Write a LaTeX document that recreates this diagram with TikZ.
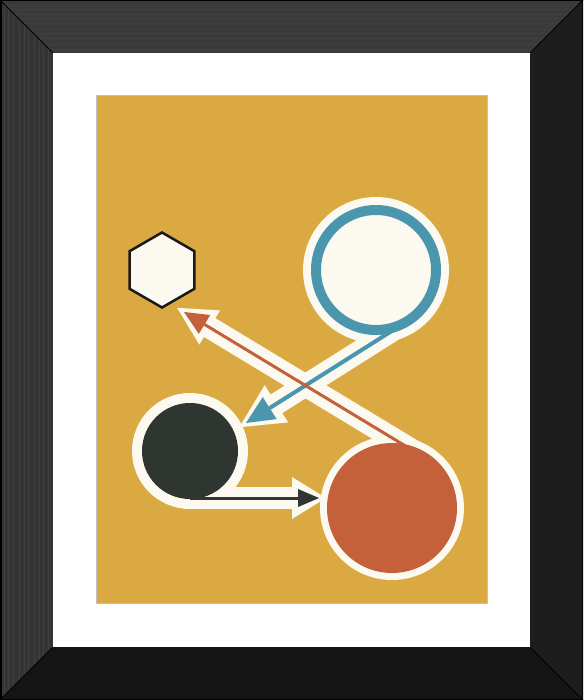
\documentclass[tikz,border=0pt]{standalone}
\usepackage{tikz}
\usetikzlibrary{shapes,positioning,calc}
\usetikzlibrary{arrows.meta,backgrounds}

\definecolor{mustard}{HTML}{DBA941}
\definecolor{cream}{HTML}{FBF9F0}
\definecolor{rust}{HTML}{C4613A}
\definecolor{ringblue}{HTML}{4A96AC}
\definecolor{slate}{HTML}{2F3631}
\definecolor{frametop}{HTML}{3A3A3A}
\definecolor{frameleft}{HTML}{343434}
\definecolor{frameright}{HTML}{1D1D1D}
\definecolor{framebottom}{HTML}{151515}

\begin{document}
\begin{tikzpicture}[x=1pt,y=-1pt,
    disk/.style={circle, inner sep=0pt, outer sep=0pt},
    halo/.style={cream, line width=22pt, line cap=round},
    ]
    \useasboundingbox (0,0) rectangle (583,700);

    % Frame, mat and paper
    \begin{scope}[on background layer]
        \fill[frametop] (0,0) -- (583,0) -- (530,53) -- (53,53) -- cycle;
        \fill[frameleft] (0,0) -- (53,53) -- (53,647) -- (0,700) -- cycle;
        \fill[frameright] (583,0) -- (583,700) -- (530,647) -- (530,53) -- cycle;
        \fill[framebottom] (0,700) -- (53,647) -- (530,647) -- (583,700) -- cycle;
        \begin{scope}
            \clip (0,0) -- (583,0) -- (530,53) -- (53,53) -- cycle;
            \foreach \g in {5,9,14,18,23,29,33,38,44,49}
                \draw[black!75, line width=0.5pt] (0,\g) -- (583,\g);
        \end{scope}
        \begin{scope}
            \clip (0,0) -- (53,53) -- (53,647) -- (0,700) -- cycle;
            \foreach \g in {4,8,13,19,24,28,34,39,43,48}
                \draw[black!75, line width=0.5pt] (\g,0) -- (\g,700);
        \end{scope}
        \draw[black, line width=1pt] (0,0) -- (53,53) (583,0) -- (530,53)
            (0,700) -- (53,647) (583,700) -- (530,647);
        \draw[black, line width=1.5pt] (0.75,0.75) rectangle (582.25,699.25);
        \fill[white] (53,53) rectangle (530,647);
        \filldraw[fill=mustard, draw=black!25, line width=0.8pt] (96,95) rectangle (487,603);
    \end{scope}

    % Shapes
    \node[regular polygon, regular polygon sides=6, shape border rotate=30,
        draw=black!90, line width=2.5pt, fill=cream, inner sep=0pt,
        minimum size=75pt] (hexa) at (162,270) {};
    \node[disk, draw=ringblue, line width=10pt, fill=cream, minimum size=120pt] (ring) at (376,270) {};
    \node[disk, fill=slate, minimum size=96pt] (darkc) at (190,451) {};
    \node[disk, fill=rust, minimum size=130pt] (redc) at (392,508) {};

    % Where the arrows leave the circles, and where they point
    \coordinate (blue tail) at ($(ring.center)+(-58:60pt)$);
    \coordinate (red tail) at ($(redc.center)+(59:60pt)$);
    \coordinate (dark tail) at ($(darkc.center)+(-90:47pt)$);
    \coordinate (blue tip) at (246,423);
    \coordinate (red tip) at (184,312);
    \coordinate (dark tip) at (319,498);

    % White halos
    \begin{scope}[on background layer]
        \fill[cream] (ring) circle (73pt);
        \fill[cream] (darkc) circle (58pt);
        \fill[cream] (redc) circle (72pt);
        \draw[halo, shorten >=-8pt, -{Triangle[length=44pt,width=44pt,line width=0pt]}] (blue tail) -- (blue tip);
        \draw[halo, shorten >=-8pt, -{Triangle[length=38pt,width=40pt,line width=0pt]}] (red tail) -- (red tip);
        \draw[halo, shorten >=-7pt, -{Triangle[length=34pt,width=42pt,line width=0pt]}] (dark tail) -- (dark tip);
    \end{scope}

    % Arrows
    \draw[ringblue, line width=4pt, -{Triangle[length=28pt,width=26pt,line width=0pt]}] (blue tail) -- (blue tip);
    \draw[rust, line width=3pt, -{Triangle[length=24pt,width=22pt,line width=0pt]}] (red tail) -- (red tip);
    \draw[slate, line width=3pt, -{Triangle[length=21pt,width=18pt,line width=0pt]}] (dark tail) -- (dark tip);
\end{tikzpicture}
\end{document}
